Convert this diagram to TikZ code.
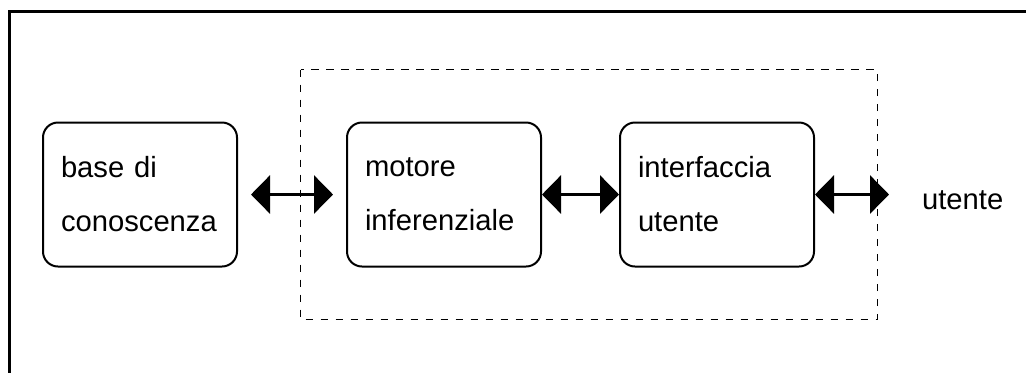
\documentclass[tikz,border=0pt]{standalone}
\usepackage{fontspec}
\setmainfont{Liberation Sans}
\usetikzlibrary{positioning,arrows.meta}

\tikzset{
    modulo/.style={draw, line width=1pt, rounded corners=7.5pt,
        minimum width=97pt, minimum height=72pt,
        text width=79pt, inner xsep=9pt, align=left,
        font=\fontsize{14.6}{27}\selectfont},
    testo/.style={font=\fontsize{14.6}{27}\selectfont},
    punta/.tip={Triangle[length=9.5pt,width=19pt]},
    freccia/.style={line width=1.5pt, punta-punta},
}

\begin{document}
\begin{tikzpicture}[x=0.5pt, y=-0.5pt]
    \useasboundingbox (0,0) rectangle (1026,372);

    % cornice esterna
    \draw[line width=1.5pt] (9.5,380) -- (9.5,11) -- (1035,11);

    % moduli del sistema esperto
    \node[modulo] (base) at (140,194.5) {base di\\conoscenza};
    \node[modulo, right=54pt of base] (motore) {motore\\inferenziale};
    \node[modulo, right=38.5pt of motore] (interfaccia) {interfaccia\\utente};
    \node[testo, right=50pt of interfaccia, yshift=-3pt] (utente) {utente};

    % shell
    \draw[line width=0.5pt, dash pattern=on 3.75pt off 3.75pt] (300.5,69.5) rectangle (877,319.5);

    % collegamenti
    \draw[freccia, shorten <=6.5pt, shorten >=6.5pt] (base) -- (motore);
    \draw[freccia] (motore) -- (interfaccia);
    \draw[freccia, shorten >=13pt] (interfaccia) -- (interfaccia -| utente.west);
\end{tikzpicture}
\end{document}
